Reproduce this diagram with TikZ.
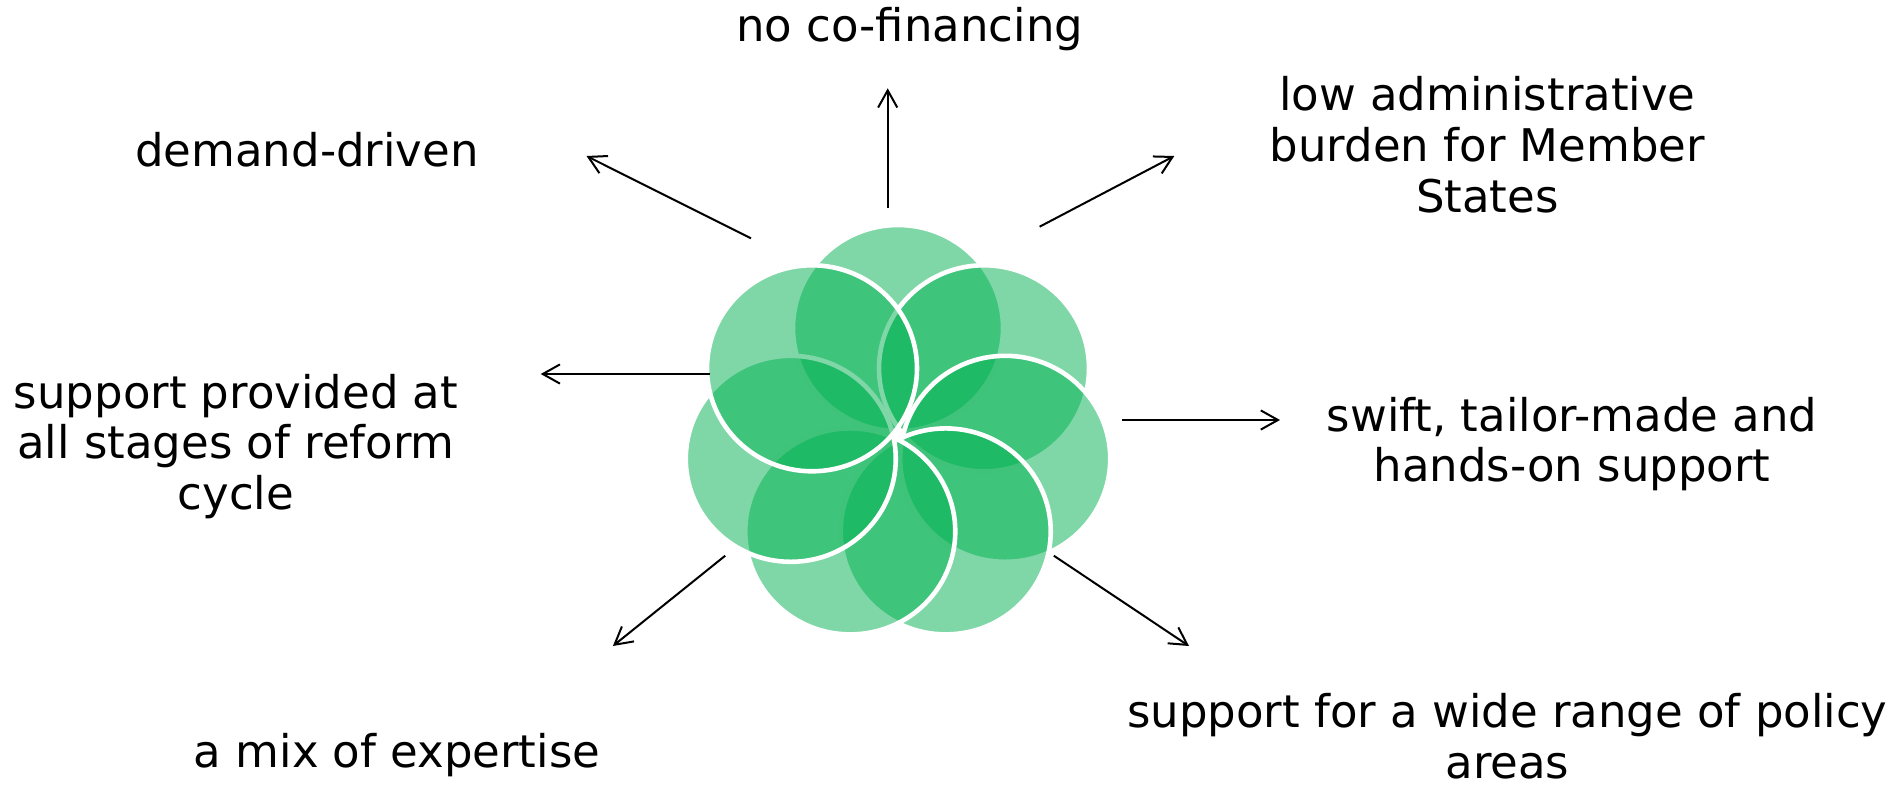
\documentclass[tikz,border=0pt]{standalone}
\usepackage{fontspec}
\setmainfont{DejaVu Sans}
\usetikzlibrary{arrows.meta, calc}
\definecolor{petalgreen}{HTML}{00B050}
\tikzset{
  petal1/.style = {
    fill = petalgreen,
    fill opacity = 0.5,
    draw = white,
    line width = 2.3pt,
  }
}
\tikzset{
  text1/.style = {
    align = center,
    inner sep = 0pt,
    font = \fontsize{22.5}{25.3}\selectfont,
  }
}
\tikzset{
  arrow1/.style = {
    draw = black, line width = 1pt, -{Straight Barb[length = 8.6pt, width = 9.6pt]},
  }
}

\begin{document}
\begin{tikzpicture}[x = 0.5pt, y = -0.5pt]
            \useasboundingbox (0,0) rectangle (1893,788);
            % petals, drawn clockwise from the top one
            \coordinate (flower) at (898,435);
            \filldraw[petal1] ($(flower)+(-90:110 and 107)$) ellipse [x radius = 52.5pt, y radius = 51.5pt];
            \filldraw[petal1] ($(flower)+(-38.571:110 and 107)$) ellipse [x radius = 52.5pt, y radius = 51.5pt];
            \filldraw[petal1] ($(flower)+(12.857:110 and 107)$) ellipse [x radius = 52.5pt, y radius = 51.5pt];
            \filldraw[petal1] ($(flower)+(64.286:110 and 107)$) ellipse [x radius = 52.5pt, y radius = 51.5pt];
            \filldraw[petal1] ($(flower)+(115.714:110 and 107)$) ellipse [x radius = 52.5pt, y radius = 51.5pt];
            \filldraw[petal1] ($(flower)+(167.143:110 and 107)$) ellipse [x radius = 52.5pt, y radius = 51.5pt];
            \filldraw[petal1] ($(flower)+(218.571:110 and 107)$) ellipse [x radius = 52.5pt, y radius = 51.5pt];
            % labels
            \node[text1](nofin) at (909.7,29.5){no co-financing};
            \node[text1](demand) at (307,150){demand-driven};
            \node[text1](burden) at (1487.4,144.8){low administrative\\burden for Member\\States};
            \node[text1](stages) at (236,446.3){support provided at\\all stages of reform\\cycle};
            \node[text1](swift) at (1572,444){swift, tailor-made and\\hands-on support};
            \node[text1](mix) at (397,754.9){a mix of expertise};
            \node[text1](policy) at (1507.3,736){support for a wide range of policy\\areas};
            % arrow ends
            \coordinate (n1) at (887.7,207.7);
            \coordinate (n2) at (887.7,88.3);
            \coordinate (nw1) at (751,238.3);
            \coordinate (nw2) at (586.5,156);
            \coordinate (ne1) at (1039.6,226.7);
            \coordinate (ne2) at (1174.3,156);
            \coordinate (w1) at (710,374);
            \coordinate (w2) at (540.7,374);
            \coordinate (e1) at (1122.3,420);
            \coordinate (e2) at (1280,420);
            \coordinate (sw1) at (725.2,555.7);
            \coordinate (sw2) at (612.9,646);
            \coordinate (se1) at (1053.8,555.7);
            \coordinate (se2) at (1189,646);
            \draw[arrow1](n1) -- (n2);
            \draw[arrow1](nw1) -- (nw2);
            \draw[arrow1](ne1) -- (ne2);
            \draw[arrow1](w1) -- (w2);
            \draw[arrow1](e1) -- (e2);
            \draw[arrow1](sw1) -- (sw2);
            \draw[arrow1](se1) -- (se2);
        \end{tikzpicture}
\end{document}
